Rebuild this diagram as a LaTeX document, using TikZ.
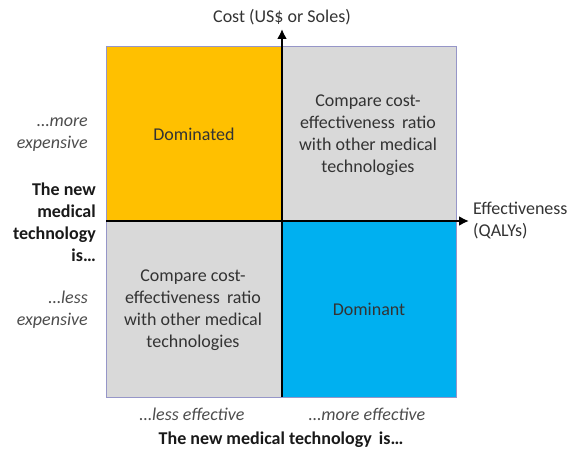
\documentclass[tikz,border=0pt]{standalone}
\usepackage{fontspec}
\setmainfont{Carlito}
\usetikzlibrary{arrows.meta}
\definecolor{domorange}{HTML}{FFC000}
\definecolor{domblue}{HTML}{00B0F0}
\definecolor{cmpgray}{HTML}{D9D9D9}
\definecolor{frameline}{RGB}{150,150,200}
\definecolor{labelgray}{HTML}{4D4D4D}
\definecolor{textgray}{HTML}{333333}
\begin{document}
\begin{tikzpicture}[
		x=1pt, y=-1pt,
		txt/.style = {font=\fontsize{18}{22}\selectfont, inner sep=0pt, align=center},
		side/.style = {txt, color=labelgray, font=\fontsize{18}{22}\selectfont\itshape},
		head/.style = {txt, color=black!90, font=\fontsize{18}{22}\selectfont\bfseries},
		axis/.style = {line width=2.6pt, -{Latex[length=10pt,width=10pt]}},
	]
	\path[use as bounding box] (0,0) rectangle (571,452);
	% the four quadrants
	\fill[domorange] (106,46) rectangle (282,221);
	\fill[cmpgray] (282,46) rectangle (456,221);
	\fill[cmpgray] (106,221) rectangle (282,397);
	\fill[domblue] (282,221) rectangle (456,397);
	\draw[frameline, line width=0.8pt] (106,46) rectangle (456,397);
	% axes
	\coordinate (xs) at (106,221);
	\coordinate (xe) at (469,221);
	\coordinate (ys) at (282,397);
	\coordinate (ye) at (282,29);
	\draw[axis] (xs) -- (xe);
	\draw[axis] (ys) -- (ye);
	\node[txt, color=textgray] (cost) at (282,17) {Cost (US\$ or Soles)};
	\node[txt, color=textgray, anchor=west, align=left] (eff) at (473,221) {Effectiveness\\(QALYs)};
	% quadrant labels
	\node[txt, color=black!80] (dominated) at (194,134) {Dominated};
	\node[txt, color=textgray] (cmpup) at (368,135) {Compare cost-\\effectiveness\, ratio\\with other medical\\technologies};
	\node[txt, color=textgray] (cmplow) at (193,310) {Compare cost-\\effectiveness\, ratio\\with other medical\\technologies};
	\node[txt, color=black!80] (dominant) at (369,309) {Dominant};
	% cost side
	\node[side, anchor=east, align=right] (moreexp) at (88,135) {…more\\expensive};
	\node[head, anchor=east, align=right] (techy) at (96,222) {The new\\medical\\technology\\is…};
	\node[side, anchor=east, align=right] (lessexp) at (88,310) {…less\\expensive};
	% effectiveness side
	\node[side] (lesseff) at (192,414) {…less effective};
	\node[side] (moreeff) at (367,414) {…more effective};
	\node[head] (techx) at (281,440) {The new medical technology\, is…};
\end{tikzpicture}
\end{document}
